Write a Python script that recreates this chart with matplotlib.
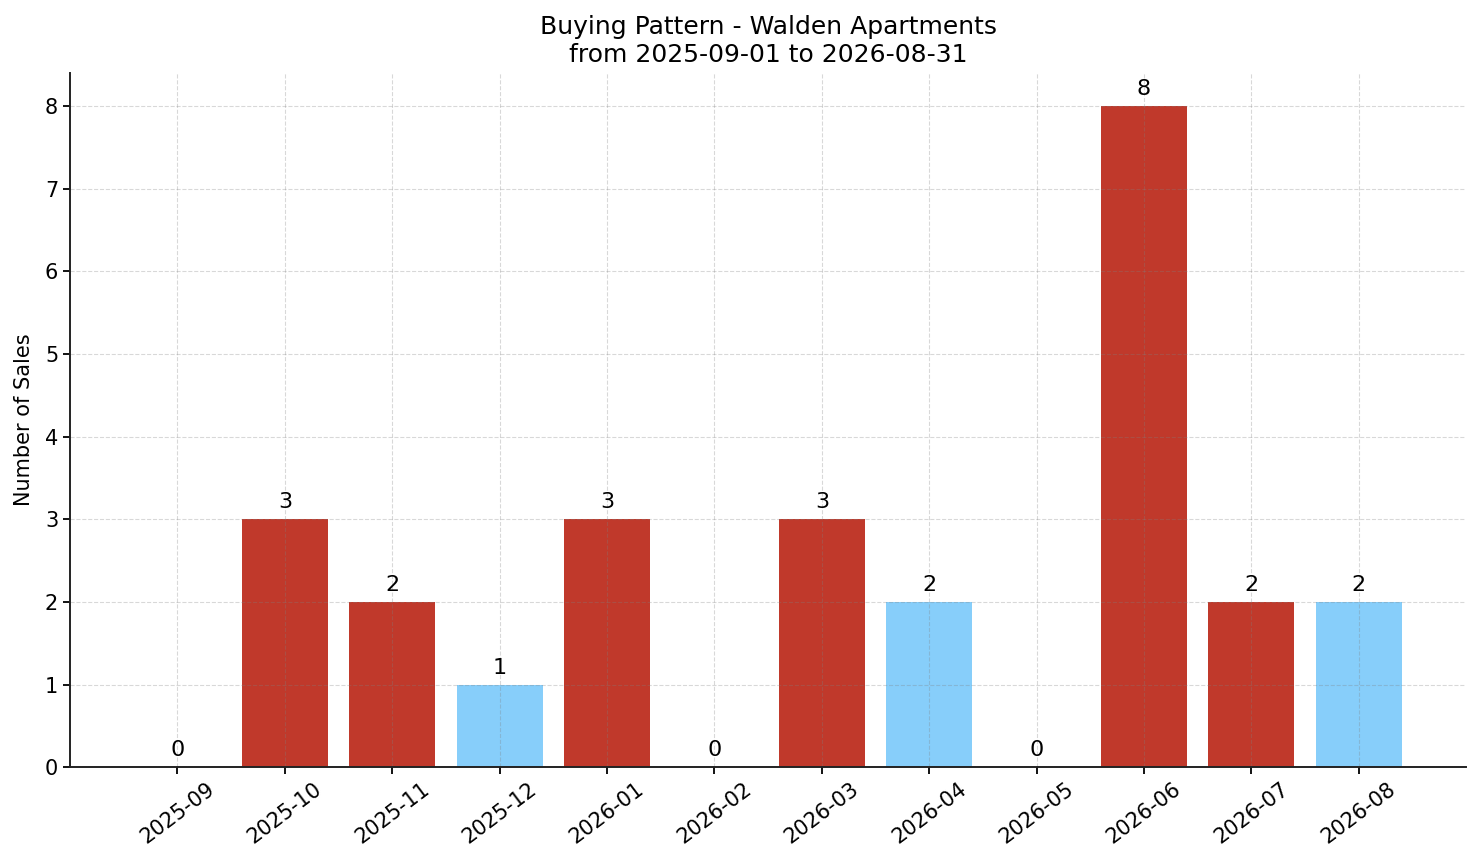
import matplotlib
matplotlib.use("Agg")
import matplotlib.pyplot as plt

months = ["2025-09", "2025-10", "2025-11", "2025-12", "2026-01", "2026-02",
          "2026-03", "2026-04", "2026-05", "2026-06", "2026-07", "2026-08"]
sales = [0, 3, 2, 1, 3, 0, 3, 2, 0, 8, 2, 2]
bar_colors = ["#C0392B", "#C0392B", "#C0392B", "#87CEFA", "#C0392B", "#C0392B",
              "#C0392B", "#87CEFA", "#C0392B", "#C0392B", "#C0392B", "#87CEFA"]
title = "Buying Pattern - Walden Apartments\nfrom 2025-09-01 to 2026-08-31"

fig, ax = plt.subplots(figsize=(14.81, 8.63), dpi=100)
fig.subplots_adjust(left=0.0473, right=0.99, top=0.9154, bottom=0.111)

x = list(range(len(months)))
bars = ax.bar(x, sales, width=0.8, color=bar_colors)
for xi, v in zip(x, sales):
    ax.annotate(str(v), (xi, v), xytext=(0, 5), textcoords="offset points",
                ha="center", va="bottom", fontsize=16)

ax.set_xticks(x)
ax.set_xticklabels(months, rotation=37, fontsize=15)
ax.tick_params(axis="y", labelsize=15)
ax.tick_params(width=1.3, length=5)
ax.set_xlim(-1, 12)
ax.set_ylim(0, 8.4)
ax.set_ylabel("Number of Sales", fontsize=15, labelpad=8)
ax.set_title(title, fontsize=18, pad=8)
ax.grid(True, linestyle="--", color="gray", alpha=0.3, linewidth=0.8)
for s in ["top", "right"]:
    ax.spines[s].set_visible(False)
for s in ["left", "bottom"]:
    ax.spines[s].set_linewidth(1.4)
    ax.spines[s].set_color("#222222")

fig.savefig("out.png", dpi=100)
